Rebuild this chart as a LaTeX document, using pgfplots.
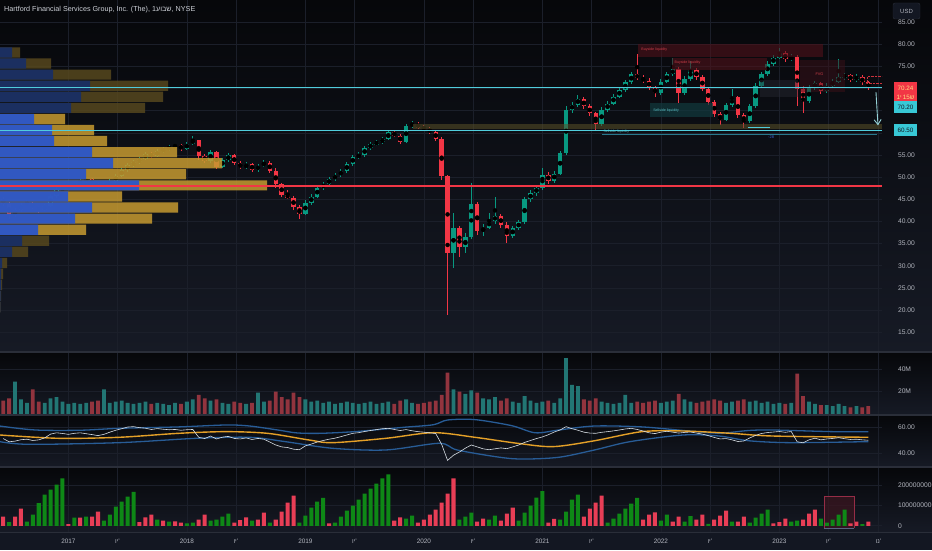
\documentclass[border=0pt]{standalone}
\usepackage{fontspec}
\setmainfont{Liberation Sans}
\usepackage{pgfplots}
\usepackage{pgfplotstable}
\pgfplotsset{compat=1.18}
\usetikzlibrary{arrows.meta}
\TeXXeTstate=1
\definecolor{bgTop}{RGB}{6,7,10}
\definecolor{bgBot}{RGB}{22,26,37}
\definecolor{strip}{RGB}{19,23,34}
\definecolor{gridc}{RGB}{27,31,42}
\definecolor{sepc}{RGB}{42,46,57}
\definecolor{labc}{RGB}{178,181,190}
\definecolor{titc}{RGB}{205,208,214}
\definecolor{upc}{RGB}{8,153,129}
\definecolor{dnc}{RGB}{242,54,69}
\definecolor{cyanl}{RGB}{80,205,220}
\definecolor{cyanb}{RGB}{56,200,214}
\definecolor{volup}{RGB}{34,118,116}
\definecolor{voldn}{RGB}{146,52,62}
\definecolor{cumg}{RGB}{14,136,22}
\definecolor{cumr}{RGB}{232,62,86}
\definecolor{bandc}{RGB}{40,92,150}
\definecolor{mac}{RGB}{228,160,40}
\definecolor{rsic}{RGB}{215,222,228}
\definecolor{pblue}{RGB}{36,84,210}
\definecolor{pblueD}{RGB}{22,46,104}
\definecolor{pgold}{RGB}{198,154,48}
\definecolor{pgoldD}{RGB}{86,71,30}
\definecolor{boxtxt}{RGB}{255,222,130}
\definecolor{darktxt}{RGB}{19,23,34}
\definecolor{annBand}{RGB}{90,80,40}
\definecolor{annRed}{RGB}{80,18,26}
\definecolor{annTeal}{RGB}{18,58,62}
\definecolor{annRed2}{RGB}{60,16,24}
\definecolor{annGray}{RGB}{40,42,52}
\definecolor{annLine}{RGB}{40,120,140}
\definecolor{arrowc}{RGB}{150,210,215}
\definecolor{boxRed}{RGB}{58,22,32}
\definecolor{boxEdge}{RGB}{150,45,70}
\definecolor{boxEdgeB}{RGB}{90,100,130}
\definecolor{dotRed}{RGB}{200,50,60}
\definecolor{txtRed}{RGB}{205,62,72}
\definecolor{txtTeal}{RGB}{90,190,195}
\definecolor{txtBlue}{RGB}{60,100,220}

\pgfplotstableread{
t o h l c v b g r
2016.45 45.0 45.6 43.6 44.0 12 45 0 51.5
2016.50 44.0 44.3 40.6 41.5 14 18 1 49.0
2016.55 41.5 43.0 41.0 42.5 29 45 0 49.5
2016.60 42.5 44.2 42.2 43.8 13 85 0 50.6
2016.65 43.8 44.8 43.4 44.2 10 20 1 51.0
2016.70 44.2 44.5 42.8 43.2 22 55 1 50.0
2016.75 43.2 43.6 42.0 42.6 11 112 1 50.5
2016.80 42.6 44.0 42.3 43.5 10 155 1 52.0
2016.85 43.5 46.3 43.2 45.8 14 180 1 55.0
2016.90 45.8 47.8 45.4 47.2 15 205 1 56.0
2016.95 47.2 48.0 46.8 47.6 11 235 1 55.5
2017.00 47.6 48.3 47.0 47.9 9 8 0 54.8
2017.05 47.9 49.0 47.5 48.6 10 40 1 55.6
2017.10 48.6 49.6 48.2 49.2 9 40 0 56.0
2017.15 49.2 50.0 48.8 49.6 10 45 1 55.3
2017.20 49.6 49.9 48.0 48.4 11 45 0 54.6
2017.25 48.4 48.8 47.2 47.6 12 70 0 53.8
2017.30 47.6 48.6 47.2 48.2 22 25 1 54.8
2017.35 48.2 49.5 47.9 49.1 10 55 1 56.5
2017.40 49.1 50.7 48.8 50.3 11 95 1 58.0
2017.45 50.3 52.0 50.0 51.6 12 120 1 59.2
2017.50 51.6 53.1 51.2 52.7 10 145 1 60.5
2017.55 52.7 53.8 52.3 53.4 9 168 1 60.8
2017.60 53.4 54.5 53.0 54.1 10 18 0 60.0
2017.65 54.1 55.6 53.8 55.2 11 42 0 59.6
2017.70 55.2 55.6 54.3 54.8 9 55 0 58.6
2017.75 54.8 56.3 54.5 55.9 10 30 1 59.3
2017.80 55.9 56.8 55.5 56.3 9 25 0 58.8
2017.85 56.3 57.2 55.9 56.8 8 20 1 58.4
2017.90 56.8 57.6 56.3 57.2 10 22 0 58.6
2017.95 57.2 57.5 56.0 56.4 9 15 0 58.0
2018.00 56.4 58.0 56.1 57.6 11 12 1 58.4
2018.05 57.6 59.2 57.3 58.3 13 15 1 58.6
2018.10 58.3 58.5 53.9 54.8 17 30 0 52.5
2018.15 54.8 55.3 53.1 53.6 14 55 0 51.5
2018.20 53.6 56.2 53.3 55.6 12 25 1 53.5
2018.25 55.6 55.9 51.9 52.4 13 30 1 51.2
2018.30 52.4 54.3 52.0 53.8 10 45 1 52.6
2018.35 53.8 55.5 53.4 54.9 9 60 1 53.2
2018.40 54.9 55.2 52.7 53.1 11 15 0 51.6
2018.45 53.1 53.6 51.8 52.2 10 28 0 51.2
2018.50 52.2 53.4 51.8 52.9 9 42 0 52.0
2018.55 52.9 53.3 51.2 51.6 10 25 1 50.8
2018.60 51.6 53.0 51.2 52.6 19 30 0 51.6
2018.65 52.6 53.8 52.2 53.3 11 65 0 51.0
2018.70 53.3 53.6 51.0 51.5 12 15 1 48.8
2018.75 51.5 52.0 47.5 48.4 20 30 0 46.5
2018.80 48.4 48.8 45.5 46.0 15 70 0 45.0
2018.85 46.0 47.2 45.0 45.4 13 115 0 44.5
2018.90 45.4 45.8 42.7 43.2 19 150 0 43.2
2018.95 43.2 43.8 40.6 41.8 15 15 1 42.8
2019.00 41.8 44.8 41.4 44.2 13 50 1 45.8
2019.05 44.2 46.2 43.8 45.6 11 90 1 47.2
2019.10 45.6 48.1 45.2 47.6 12 120 1 48.8
2019.15 47.6 48.9 47.2 48.4 10 139 1 50.0
2019.20 48.4 50.1 48.0 49.6 11 12 0 51.0
2019.25 49.6 50.9 49.2 50.4 9 15 1 51.8
2019.30 50.4 51.9 50.0 51.4 10 45 1 53.0
2019.35 51.4 53.4 51.0 53.0 11 75 1 54.3
2019.40 53.0 55.0 52.6 54.6 10 100 1 55.6
2019.45 54.6 55.6 54.0 55.0 9 130 1 56.1
2019.50 55.0 57.0 54.6 56.6 10 160 1 57.0
2019.55 56.6 57.9 56.2 57.4 11 185 1 57.8
2019.60 57.4 58.4 57.0 57.9 9 210 1 58.5
2019.65 57.9 59.1 57.5 58.6 10 235 1 59.2
2019.70 58.6 60.6 58.3 60.1 11 255 1 59.5
2019.75 60.1 60.5 59.0 59.4 9 25 0 58.6
2019.80 59.4 59.8 57.4 58.0 12 42 0 57.8
2019.85 58.0 62.0 57.7 61.6 13 35 1 58.5
2019.90 61.6 62.6 61.2 62.1 10 50 1 57.6
2019.95 62.1 62.4 60.8 61.2 9 15 0 56.9
2020.00 61.2 61.8 60.4 60.8 10 30 0 56.5
2020.05 60.8 61.4 59.8 60.2 11 55 0 56.0
2020.10 60.2 60.6 58.2 58.6 12 80 0 55.4
2020.15 58.6 59.0 49.4 50.2 17 115 0 47.0
2020.20 50.2 50.4 19.0 33.0 37 160 0 34.5
2020.25 33.0 42.0 29.5 38.5 22 235 0 38.5
2020.30 38.5 39.0 32.0 34.2 20 30 1 41.0
2020.35 34.2 37.5 32.8 36.5 18 45 1 44.0
2020.40 36.5 48.7 36.0 44.0 21 65 1 46.5
2020.45 44.0 44.5 37.0 37.8 19 20 0 45.0
2020.50 37.8 39.5 36.8 38.6 14 35 0 43.5
2020.55 38.6 42.0 38.2 40.2 13 30 1 42.8
2020.60 40.2 45.5 39.5 41.2 15 50 1 43.5
2020.65 41.2 41.8 38.6 39.2 12 25 0 44.2
2020.70 39.2 39.8 35.1 36.8 14 60 0 43.6
2020.75 36.8 39.0 36.2 38.6 11 90 0 45.0
2020.80 38.6 40.4 38.0 39.8 10 25 1 46.5
2020.85 39.8 45.6 39.5 45.0 16 65 1 48.5
2020.90 45.0 47.0 44.4 46.4 12 100 1 50.0
2020.95 46.4 48.2 45.8 47.6 10 140 1 51.5
2021.00 47.6 52.0 47.2 50.6 11 172 1 52.8
2021.05 50.6 51.2 48.4 49.2 12 15 0 54.5
2021.10 49.2 51.4 48.8 50.8 10 34 0 56.6
2021.15 50.8 56.0 50.4 55.4 14 30 1 58.2
2021.20 55.4 66.0 55.0 65.2 50 70 1 60.8
2021.25 65.2 67.0 64.6 66.4 26 130 1 59.2
2021.30 66.4 68.5 65.8 67.6 25 155 1 58.0
2021.35 67.6 68.0 65.4 66.0 13 45 0 56.5
2021.40 66.0 66.5 63.8 64.4 12 85 0 55.8
2021.45 64.4 64.8 60.6 62.0 14 115 0 55.6
2021.50 62.0 65.8 61.6 65.2 11 150 0 56.4
2021.55 65.2 67.2 64.8 66.6 10 15 1 56.9
2021.60 66.6 68.8 66.2 68.2 9 35 1 57.5
2021.65 68.2 70.2 67.8 69.6 10 60 1 58.2
2021.70 69.6 72.0 69.2 71.4 17 85 1 59.0
2021.75 71.4 73.8 71.0 73.2 10 110 1 59.5
2021.80 73.2 77.8 71.9 72.4 11 138 1 58.6
2021.85 72.4 73.0 71.2 71.8 10 30 0 57.4
2021.90 71.8 72.4 69.6 70.2 11 55 0 56.0
2021.95 70.2 70.6 68.2 69.0 12 66 0 55.4
2022.00 69.0 72.2 68.6 71.6 10 25 1 56.5
2022.05 71.6 73.8 71.2 73.2 11 55 1 57.2
2022.10 73.2 77.0 72.8 74.4 12 20 0 56.5
2022.15 74.4 74.8 66.7 69.0 18 45 0 55.8
2022.20 69.0 72.8 68.6 72.2 13 20 1 56.3
2022.25 72.2 76.2 71.8 74.2 11 48 1 56.6
2022.30 74.2 74.6 72.0 72.6 10 30 0 55.8
2022.35 72.6 73.0 69.4 70.0 11 55 0 55.0
2022.40 70.0 70.4 66.4 67.0 12 10 1 53.8
2022.45 67.0 67.5 63.6 64.2 13 30 0 52.4
2022.50 64.2 64.8 61.8 63.0 12 50 0 51.2
2022.55 63.0 66.8 62.6 66.2 10 75 0 51.5
2022.60 66.2 69.8 65.8 68.0 11 20 1 50.5
2022.65 68.0 68.4 63.4 64.0 12 20 0 49.2
2022.70 64.0 64.5 61.1 62.6 13 45 0 49.6
2022.75 62.6 66.6 62.2 66.0 11 15 1 52.0
2022.80 66.0 71.2 65.6 70.6 12 40 1 54.0
2022.85 70.6 73.8 70.2 73.2 10 60 1 55.5
2022.90 73.2 76.2 72.8 75.6 11 80 1 56.2
2022.95 75.6 77.6 75.2 77.0 9 12 0 56.6
2023.00 77.0 79.2 76.6 78.0 10 18 0 57.0
2023.05 78.0 78.4 76.0 76.6 9 35 0 56.4
2023.10 76.6 77.8 76.2 77.2 10 20 1 57.0
2023.15 77.2 77.6 66.0 70.0 36 25 1 49.0
2023.20 70.0 70.6 64.5 67.2 16 30 0 48.2
2023.25 67.2 70.8 66.8 70.2 11 60 0 50.5
2023.30 70.2 71.8 69.6 71.2 9 80 0 51.8
2023.35 71.2 71.6 68.8 69.4 8 35 1 50.5
2023.40 69.4 71.2 69.0 70.6 8 15 1 51.2
2023.45 70.6 72.2 70.2 71.6 7 30 1 51.6
2023.50 71.6 76.7 71.2 72.6 9 55 1 52.2
2023.55 72.6 73.6 72.0 73.0 7 80 1 51.4
2023.60 73.0 73.4 71.4 72.0 6 12 0 50.8
2023.65 72.0 73.2 71.6 72.6 7 20 0 51.0
2023.70 72.6 73.0 70.8 71.4 6 8 1 50.5
2023.75 71.4 71.8 69.6 70.24 7 20 0 50.2
}\data

\pgfplotstableread{
p blue gold d
78.15 12 20 1
75.65 26 51 1
73.15 53 111 1
70.65 90 168 1
68.15 81 163 1
65.65 71 145 1
63.15 34 65 0
60.65 52 94 0
58.15 54 107 0
55.65 92 177 0
53.15 113 222 0
50.65 86 186 0
48.15 139 267 0
45.65 68 122 0
43.15 92 178 0
40.65 75 152 0
38.15 38 86 0
35.65 22 49 1
33.15 12 28 1
30.65 2 7 1
28.15 1 3 1
25.65 1 2 1
23.15 0.5 1 1
20.65 0.3 0.6 1
}\prof

\pgfplotstableread{
t m
2016.42 54.3
2016.92 51.7
2017.43 52.5
2017.93 55.6
2018.33 56.9
2018.68 55.6
2019.03 50.4
2019.23 48.3
2019.68 51.7
2020.08 56.1
2020.43 52.5
2020.79 47.8
2021.09 45.2
2021.44 49.8
2021.84 56.9
2022.19 57.4
2022.59 55.6
2022.94 53.5
2023.75 52.5
}\ma

\pgfplotstableread{
t u
2016.42 61.3
2016.72 58.2
2017.10 58.0
2017.43 59.5
2017.93 60.6
2018.33 62.1
2018.53 61.3
2018.78 58.0
2018.93 55.9
2019.13 55.6
2019.43 57.0
2019.83 60.3
2020.08 62.3
2020.20 66.0
2020.43 66.3
2020.74 61.6
2020.94 56.0
2021.14 58.2
2021.44 61.3
2021.84 60.6
2022.19 57.8
2022.49 55.7
2022.74 57.8
2022.94 58.2
2023.45 56.9
2023.75 56.9
}\upb

\pgfplotstableread{
t w
2016.42 49.1
2016.67 47.0
2017.43 48.3
2018.08 51.7
2018.53 52.5
2018.83 49.1
2019.23 43.9
2019.68 42.6
2020.13 47.8
2020.28 42.6
2020.64 36.9
2020.84 35.5
2021.14 36.9
2021.44 42.6
2021.74 49.1
2022.19 54.3
2022.49 53.5
2022.74 49.8
2023.09 48.3
2023.75 49.1
}\lob

\newcommand\hy{\beginR יו\endR'}
\newcommand\hn{\beginR נו\endR'}

\pgfplotsset{pane/.style={scale only axis, width=882pt, xmin=2016.423, xmax=2023.866,
  axis line style={draw=none}, major tick length=0pt, tick style={draw=none},
  xtick={2017,2017.414,2018,2018.414,2019,2019.414,2020,2020.414,2021,2021.414,2022,2022.414,2023,2023.414,2023.836},
  xticklabels={}, xmajorgrids, ymajorgrids, grid style={gridc, line width=0.6pt},
  yticklabel pos=right,
  yticklabel style={anchor=west, xshift=12.5pt, font=\fontsize{6.7}{8}\selectfont, text=labc},
  clip=true},
  wick/.style={only marks, mark=none, forget plot, error bars/.cd, y dir=both, y explicit, error mark=none, error bar style={draw=#1, line width=0.9pt}},
  body/.style={only marks, mark=none, forget plot, error bars/.cd, y dir=both, y explicit, error mark=none, error bar style={draw=#1, line width=4.4pt}}
}

\begin{document}
\begin{tikzpicture}
\useasboundingbox (0pt,0pt) rectangle (932pt,550pt);
\shade[top color=bgTop, bottom color=bgBot] (0pt,198pt) rectangle (932pt,550pt);
\shade[top color=bgTop, bottom color=bgBot] (0pt,135pt) rectangle (932pt,198pt);
\shade[top color=bgTop, bottom color=bgBot] (0pt,83pt) rectangle (932pt,135pt);
\shade[top color=bgTop, bottom color=bgBot] (0pt,18pt) rectangle (932pt,83pt);
\fill[strip] (0pt,0pt) rectangle (932pt,18pt);

% ---------- price pane
\begin{axis}[pane, at={(0pt,198pt)}, anchor=south west, height=352pt, ymin=10.54, ymax=90,
  ytick={15,20,...,85},
  yticklabels={15.00,20.00,25.00,30.00,35.00,40.00,45.00,50.00,55.00,,,,75.00,80.00,85.00}]
\addplot[wick=upc] table[x=t, y expr={\thisrow{c}>=\thisrow{o} ? (\thisrow{h}+\thisrow{l})/2 : nan}, y error expr={(\thisrow{h}-\thisrow{l})/2}] {\data};
\addplot[wick=dnc] table[x=t, y expr={\thisrow{c}<\thisrow{o} ? (\thisrow{h}+\thisrow{l})/2 : nan}, y error expr={(\thisrow{h}-\thisrow{l})/2}] {\data};
\addplot[body=upc] table[x=t, y expr={\thisrow{c}>=\thisrow{o} ? (\thisrow{o}+\thisrow{c})/2 : nan}, y error expr={max(abs(\thisrow{c}-\thisrow{o})/2,0.3)}] {\data};
\addplot[body=dnc] table[x=t, y expr={\thisrow{c}<\thisrow{o} ? (\thisrow{o}+\thisrow{c})/2 : nan}, y error expr={max(abs(\thisrow{c}-\thisrow{o})/2,0.3)}] {\data};
\end{axis}

% ---------- volume profile
\begin{axis}[scale only axis, width=882pt, height=352pt, at={(0pt,198pt)}, anchor=south west,
  xmin=0, xmax=882, ymin=10.54, ymax=90, hide axis, clip=true]
\addplot[xbar, bar width=2.3, bar shift=0pt, draw=none, fill=pgoldD, fill opacity=0.85] table[y=p, x expr={\thisrow{d}==1 ? \thisrow{gold} : nan}] {\prof};
\addplot[xbar, bar width=2.3, bar shift=0pt, draw=none, fill=pgold, fill opacity=0.85] table[y=p, x expr={\thisrow{d}==0 ? \thisrow{gold} : nan}] {\prof};
\addplot[xbar, bar width=2.3, bar shift=0pt, draw=none, fill=pblueD, fill opacity=0.9] table[y=p, x expr={\thisrow{d}==1 ? \thisrow{blue} : nan}] {\prof};
\addplot[xbar, bar width=2.3, bar shift=0pt, draw=none, fill=pblue, fill opacity=0.9] table[y=p, x expr={\thisrow{d}==0 ? \thisrow{blue} : nan}] {\prof};
\end{axis}

% ---------- annotations on price pane
\begin{axis}[scale only axis, width=882pt, height=352pt, at={(0pt,198pt)}, anchor=south west,
  xmin=2016.423, xmax=2023.866, ymin=10.54, ymax=90, hide axis, clip=true]
\fill[annBand, opacity=0.55] (axis cs:2019.908,60.9) rectangle (axis cs:2023.866,62.0);
\fill[annRed, opacity=0.6] (axis cs:2021.807,77.2) rectangle (axis cs:2023.368,80.0);
\fill[annRed, opacity=0.6] (axis cs:2022.094,74.2) rectangle (axis cs:2022.896,76.9);
\fill[annTeal, opacity=0.7] (axis cs:2021.908,63.6) rectangle (axis cs:2022.44,66.8);
\fill[annRed2, opacity=0.5] (axis cs:2023.174,69.3) rectangle (axis cs:2023.554,76.5);
\fill[annGray, opacity=0.45] (axis cs:2022.84,68.1) rectangle (axis cs:2023.16,72.0);
\node[anchor=west, text=txtRed, font=\fontsize{3.6}{4}\selectfont, inner sep=0.5pt] at (axis cs:2021.83,78.8) {Buyside liquidity};
\node[anchor=west, text=txtRed, font=\fontsize{3.6}{4}\selectfont, inner sep=0.5pt] at (axis cs:2022.11,75.9) {Buyside liquidity};
\node[anchor=west, text=txtTeal, font=\fontsize{3.6}{4}\selectfont, inner sep=0.5pt] at (axis cs:2021.93,65.0) {Sellside liquidity};
\node[anchor=west, text=txtTeal, font=\fontsize{3.6}{4}\selectfont, inner sep=0.5pt] at (axis cs:2021.51,60.2) {Sellside liquidity};
\node[anchor=west, text=txtRed, font=\fontsize{3.8}{4}\selectfont, inner sep=0.5pt] at (axis cs:2023.30,73.2) {FVG};
\draw[dotRed, line width=0.4pt, densely dotted] (axis cs:2023.74,71.3) rectangle (axis cs:2023.95,72.7);
\addplot[cyanl, line width=1.4pt] coordinates {(2016.423,70.2) (2023.866,70.2)};
\addplot[cyanl, line width=1.4pt] coordinates {(2016.423,60.5) (2023.866,60.5)};
\addplot[annLine, line width=0.9pt] coordinates {(2021.503,59.75) (2023.824,59.75)};
\addplot[cyanl, line width=0.9pt] coordinates {(2022.735,61.3) (2022.92,61.3)};
\addplot[dnc, line width=1.3pt] coordinates {(2016.423,48.0) (2023.866,48.0)};
\node[text=txtBlue, font=\fontsize{4}{4}\selectfont, inner sep=0pt] at (axis cs:2022.93,59.0) {-28};
\draw[arrowc, line width=0.9pt, -{Straight Barb[length=5pt,width=7pt]}] (axis cs:2023.815,69.2) -- (axis cs:2023.832,61.7);
\end{axis}

% ---------- volume pane
\begin{axis}[pane, at={(0pt,135pt)}, anchor=south west, height=63pt, ymin=-0.9, ymax=55.4,
  ytick={20,40}, yticklabels={20M,40M}]
\addplot[ybar, bar width=0.032, bar shift=0pt, draw=none, fill=volup] table[x=t, y expr={\thisrow{c}>=\thisrow{o} ? \thisrow{v} : nan}] {\data};
\addplot[ybar, bar width=0.032, bar shift=0pt, draw=none, fill=voldn] table[x=t, y expr={\thisrow{c}<\thisrow{o} ? \thisrow{v} : nan}] {\data};
\end{axis}

% ---------- RSI pane
\begin{axis}[pane, at={(0pt,83pt)}, anchor=south west, height=52pt, ymin=29.3, ymax=69.9,
  ytick={40,60}, yticklabels={40.00,60.00}]
\addplot[bandc, line width=1.3pt, smooth, tension=0.5] table[x=t, y=u] {\upb};
\addplot[bandc, line width=1.3pt, smooth, tension=0.5] table[x=t, y=w] {\lob};
\addplot[mac, line width=1.4pt, smooth, tension=0.5] table[x=t, y=m] {\ma};
\addplot[rsic, line width=0.6pt] table[x=t, y=r] {\data};
\end{axis}

% ---------- cumulative volume pane
\begin{axis}[pane, at={(0pt,18pt)}, anchor=south west, height=65pt, ymin=-31, ymax=292,
  ytick={0,100,200}, yticklabels={0,100000000,200000000},
  xticklabels={2017,\hy,2018,\hy,2019,\hy,2020,\hy,2021,\hy,2022,\hy,2023,\hy,\hn},
  xticklabel style={anchor=center, yshift=-9pt, font=\fontsize{6.4}{8}\selectfont, text=labc}]
\fill[boxRed, opacity=0.75] (axis cs:2023.376,-11) rectangle (axis cs:2023.63,147);
\addplot[ybar, bar width=0.034, bar shift=0pt, draw=none, fill=cumg] table[x=t, y expr={\thisrow{g}==1 ? \thisrow{b} : nan}] {\data};
\addplot[ybar, bar width=0.034, bar shift=0pt, draw=none, fill=cumr] table[x=t, y expr={\thisrow{g}==0 ? \thisrow{b} : nan}] {\data};
\draw[boxEdge, line width=0.8pt] (axis cs:2023.376,-11) -- (axis cs:2023.376,147) -- (axis cs:2023.63,147) -- (axis cs:2023.63,-11);
\draw[boxEdgeB, line width=0.8pt] (axis cs:2023.376,-11) -- (axis cs:2023.63,-11);
\end{axis}

% ---------- separators
\draw[sepc, line width=1.6pt] (0pt,198pt) -- (932pt,198pt);
\draw[sepc, line width=1.6pt] (0pt,135pt) -- (932pt,135pt);
\draw[sepc, line width=1.6pt] (0pt,83pt) -- (932pt,83pt);
\draw[sepc, line width=1pt] (0pt,18pt) -- (932pt,18pt);

% ---------- title and price-scale labels
\node[anchor=west, text=titc, font=\fontsize{7.2}{9}\selectfont, inner sep=0pt] at (4pt,540pt) {Hartford Financial Services Group, Inc. (The), 1\beginR שבוע\endR, NYSE};
\draw[sepc, fill=strip, rounded corners=2pt] (893pt,531pt) rectangle (920pt,547pt);
\node[text=labc, font=\fontsize{6}{7}\selectfont, inner sep=0pt] at (906.5pt,539pt) {USD};
\fill[dnc] (894pt,449pt) rectangle (917pt,468pt);
\node[text=boxtxt, font=\fontsize{6.3}{7}\selectfont, inner sep=0pt] at (905.5pt,462pt) {70.24};
\node[text=boxtxt, font=\fontsize{6.3}{7}\selectfont, inner sep=0pt] at (905.5pt,453pt) {1\beginR י\endR\,15\beginR ש\endR};
\fill[cyanb] (894pt,437pt) rectangle (917pt,449pt);
\node[text=darktxt, font=\fontsize{6.3}{7}\selectfont, inner sep=0pt] at (905.5pt,443pt) {70.20};
\fill[cyanb] (894pt,414pt) rectangle (917pt,426pt);
\node[text=darktxt, font=\fontsize{6.3}{7}\selectfont, inner sep=0pt] at (905.5pt,420pt) {60.50};
\end{tikzpicture}
\end{document}
